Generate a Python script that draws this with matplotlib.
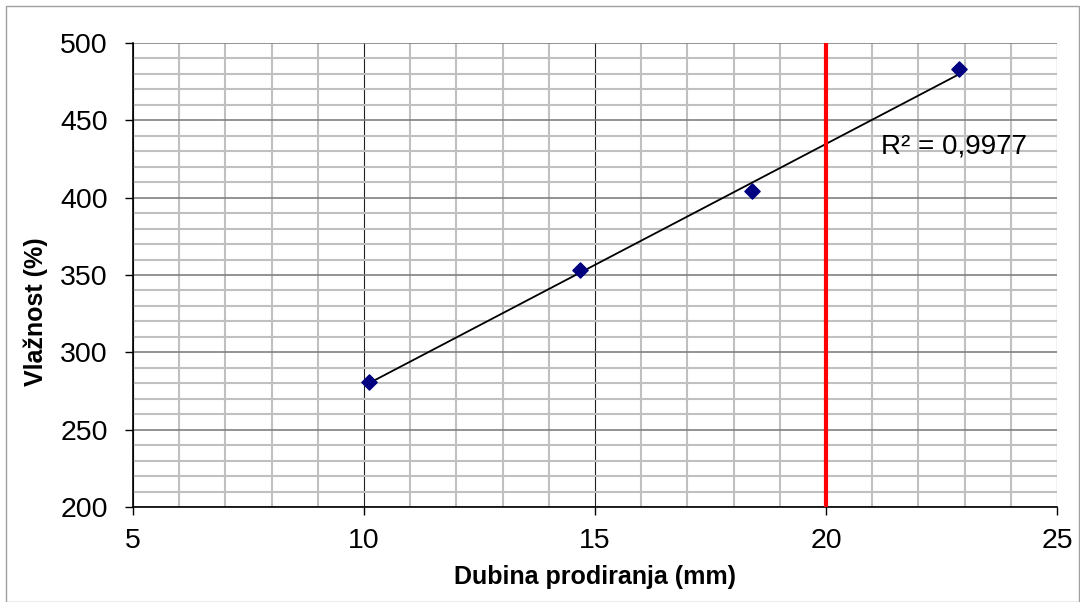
import numpy as np
import matplotlib.pyplot as plt
from matplotlib.ticker import MultipleLocator
from matplotlib.patches import Rectangle

plt.rcParams['font.family'] = ['Liberation Sans', 'DejaVu Sans']

dubina = [10.1, 14.68, 18.4, 22.88]
vlaznost = [281, 353, 404, 483]
granica = 20
r2_tekst = "R² = 0,9977"

fig = plt.figure(figsize=(10.8, 6.02), dpi=100)
ax = fig.add_axes([133 / 1080, 1 - 507 / 602, (1057 - 133) / 1080, (507 - 43) / 602])

ax.set_xlim(5, 25)
ax.set_ylim(200, 500)
ax.xaxis.set_major_locator(MultipleLocator(5))
ax.xaxis.set_minor_locator(MultipleLocator(1))
ax.yaxis.set_major_locator(MultipleLocator(50))
ax.yaxis.set_minor_locator(MultipleLocator(10))

ax.grid(which='minor', color='#c0c0c0', linewidth=1.5)
ax.grid(which='major', axis='y', color='#808080', linewidth=1.2)
ax.grid(which='major', axis='x', color='#202020', linewidth=0.8)
ax.set_axisbelow(True)

for s in ['top', 'right']:
    ax.spines[s].set_visible(False)
for s in ['left', 'bottom']:
    ax.spines[s].set_color('black')
    ax.spines[s].set_linewidth(1.2)

ax.tick_params(which='major', direction='out', length=6, width=1, labelsize=20.5)
ax.tick_params(axis='y', pad=12)
ax.tick_params(axis='x', pad=9)
ax.tick_params(which='minor', length=0)

# trend line
k, n = np.polyfit(dubina, vlaznost, 1)
xt = np.array([min(dubina), max(dubina)])
ax.plot(xt, k * xt + n, color='black', linewidth=1.3, zorder=3)

ax.scatter(dubina, vlaznost, marker='D', s=60, color='#000080', zorder=4)

ax.axvline(granica, color='#ff0000', linewidth=3, zorder=5)

ax.text(21.18, 433, r2_tekst, fontsize=20, ha='left', va='center', zorder=6)

ax.set_xlabel('Dubina prodiranja (mm)', fontsize=18, fontweight='bold')
ax.set_ylabel('Vlažnost (%)', fontsize=18, fontweight='bold')
ax.xaxis.set_label_coords(0.5, -0.125)
ax.yaxis.set_label_coords(-0.092, 0.422)

fig.patches.append(Rectangle((6 / 1080, 0), 1 - 7 / 1080, 1 - 6 / 602, transform=fig.transFigure,
                             fill=False, edgecolor='#a0a0a0', linewidth=1))

plt.savefig('out.png', dpi=100)
plt.close()
